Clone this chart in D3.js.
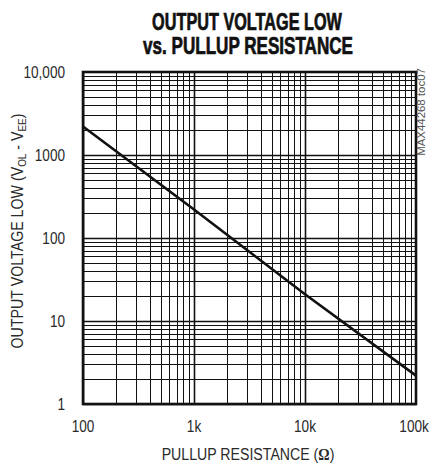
<!DOCTYPE html>
<html>
<head>
<meta charset="utf-8">
<script src="https://cdn.jsdelivr.net/npm/d3@7"></script>
<style>
  body { margin: 0; background: #fff; }
  svg { display: block; }
  text { font-family: "Liberation Sans", Arial, sans-serif; fill: #2a2a2a; }
</style>
</head>
<body>
<div id="chart"></div>
<script>
// values
const resistance = [100, 1000, 10000, 100000];
const outputLow = [2200, 220, 21, 2.2];
const xTickValues = [100, 1000, 10000, 100000];
const xTickLabels = ["100", "1k", "10k", "100k"];
const yTickValues = [1, 10, 100, 1000, 10000];
const yTickLabels = ["1", "10", "100", "1000", "10,000"];

const width = 430, height = 463;
const margin = {top: 72, right: 14, bottom: 59, left: 83};
const squeeze = 0.8; // the original uses a condensed face

const svg = d3.select("#chart").append("svg")
  .attr("width", width)
  .attr("height", height);

const x = d3.scaleLog().domain([100, 100000]).range([margin.left, width - margin.right]);
const y = d3.scaleLog().domain([1, 10000]).range([height - margin.bottom, margin.top]);

// squeeze a text horizontally to a given width (or by a factor), placed at tx,ty
function fit(sel, tx, ty, w, rot) {
  let bw = sel.node().getBBox().width;
  let k = w ? w / bw : squeeze;
  sel.attr("transform", `translate(${tx},${ty}) rotate(${rot || 0}) scale(${k},1)`);
  return bw * k;
}

// minor + major grid values
let xGrid = [], yGrid = [];
for (let d = 100; d < 100000; d *= 10) for (let k = 1; k < 10; k++) xGrid.push(d * k);
for (let d = 1; d < 10000; d *= 10) for (let k = 1; k < 10; k++) yGrid.push(d * k);

const isDecade = d => Math.abs(Math.log10(d) - Math.round(Math.log10(d))) < 1e-9;
const g = svg.append("g");

g.selectAll(".vgrid")
  .data(xGrid)
  .enter()
  .append("line")
  .attr("x1", d => Math.round(x(d)) + 0.5)
  .attr("x2", d => Math.round(x(d)) + 0.5)
  .attr("y1", y(10000))
  .attr("y2", y(1))
  .attr("stroke", "#111")
  .attr("stroke-width", d => isDecade(d) ? 1.6 : 1);

g.selectAll(".hgrid")
  .data(yGrid)
  .enter()
  .append("line")
  .attr("x1", x(100))
  .attr("x2", x(100000))
  .attr("y1", d => Math.round(y(d)) + 0.5)
  .attr("y2", d => Math.round(y(d)) + 0.5)
  .attr("stroke", "#111")
  .attr("stroke-width", d => isDecade(d) ? 1.6 : 1);

// frame
g.append("rect")
  .attr("x", x(100))
  .attr("y", y(10000))
  .attr("width", x(100000) - x(100))
  .attr("height", y(1) - y(10000))
  .attr("fill", "none")
  .attr("stroke", "#111")
  .attr("stroke-width", 2.6);

// curve
const line = d3.line()
  .x((d, i) => x(resistance[i]))
  .y(d => y(d));

g.append("path")
  .datum(outputLow)
  .attr("d", line)
  .attr("fill", "none")
  .attr("stroke", "#111")
  .attr("stroke-width", 2.6);

// tick labels
svg.selectAll(".xlab")
  .data(xTickValues)
  .enter()
  .append("text")
  .attr("text-anchor", "middle")
  .style("font-size", "17px")
  .text((d, i) => xTickLabels[i])
  .each(function (d) {
    let t = d3.select(this);
    let w = t.node().getBBox().width * squeeze;
    fit(t, Math.min(x(d), width - 1 - w / 2), 432);
  });

svg.selectAll(".ylab")
  .data(yTickValues)
  .enter()
  .append("text")
  .attr("text-anchor", "end")
  .style("font-size", "17px")
  .text((d, i) => yTickLabels[i])
  .each(function (d) {
    fit(d3.select(this), 65, y(d) + 6);
  });

// titles (heavy condensed face in the original)
const cx = (x(100) + x(100000)) / 2;
const t1 = svg.append("text")
  .attr("text-anchor", "middle")
  .style("font-size", "23px").style("font-weight", "bold")
  .style("fill", "#111").style("stroke", "#111").style("stroke-width", 0.7)
  .text("OUTPUT VOLTAGE LOW");
fit(t1, 247, 30, 190);
const t2 = svg.append("text")
  .attr("text-anchor", "middle")
  .style("font-size", "23px").style("font-weight", "bold")
  .style("fill", "#111").style("stroke", "#111").style("stroke-width", 0.7)
  .text("vs. PULLUP RESISTANCE");
fit(t2, 248, 53.5, 210);

// x axis title
const xt = svg.append("text")
  .attr("text-anchor", "middle")
  .style("font-size", "17px");
xt.append("tspan").text("PULLUP RESISTANCE (");
xt.append("tspan").style("font-family", "'Liberation Serif', serif").style("font-weight", "bold").text("Ω");
xt.append("tspan").text(")");
fit(xt, 248, 460, 173);

// y axis title
const yt = svg.append("text")
  .attr("text-anchor", "middle")
  .style("font-size", "16.5px");
yt.append("tspan").text("OUTPUT VOLTAGE LOW (V");
yt.append("tspan").style("font-size", "11.5px").attr("dy", 3).text("OL");
yt.append("tspan").attr("dy", -3).text(" - V");
yt.append("tspan").style("font-size", "11.5px").attr("dy", 3).text("EE");
yt.append("tspan").attr("dy", -3).text(")");
fit(yt, 23, 231, 235, -90);

// side note
const note = svg.append("text")
  .attr("text-anchor", "middle")
  .style("font-size", "10.5px")
  .style("fill", "#555")
  .text("MAX44268 toc07");
fit(note, 425, 112, 88, -90);
</script>
</body>
</html>
